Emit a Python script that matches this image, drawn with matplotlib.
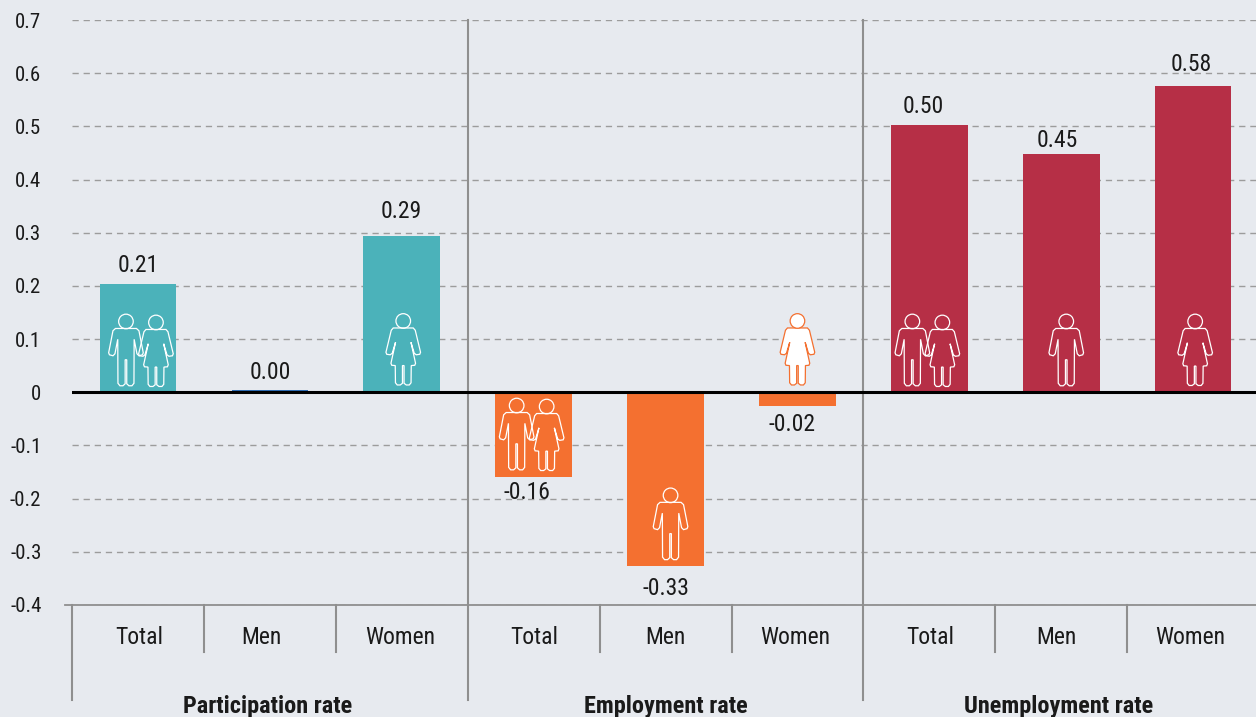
#!/usr/bin/env python3
import matplotlib

matplotlib.use("Agg")
import matplotlib.pyplot as plt
from matplotlib.patches import Circle, PathPatch
from matplotlib.path import Path
from matplotlib.transforms import Affine2D

plt.rcParams["font.family"] = ["Roboto Condensed", "Liberation Sans"]

groups = ["Participation rate", "Employment rate", "Unemployment rate"]
categories = ["Total", "Men", "Women"] * 3
bar_values = [0.204, 0.005, 0.294, -0.159, -0.326, -0.025, 0.503, 0.448, 0.576]
value_labels = ["0.21", "0.00", "0.29", "-0.16", "-0.33", "-0.02", "0.50", "0.45", "0.58"]
bar_colors = ["#4BB2BA", "#2F6DB5", "#4BB2BA"] + ["#F47030"] * 3 + ["#B62F46"] * 3
y_ticks = [-0.4, -0.3, -0.2, -0.1, 0, 0.1, 0.2, 0.3, 0.4, 0.5, 0.6, 0.7]
y_ticklabels = ["-0.4", "-0.3", "-0.2", "-0.1", "0", "0.1", "0.2", "0.3", "0.4", "0.5", "0.6", "0.7"]

BG = "#E7EAEF"
GREY = "#8F8F8F"
TEXT = "#1A1A1A"
PT = 0.72  # one pixel in points at dpi 100

# small nudges of the labels, in pixels
label_dx = [0, 0, 0, -7, 0, -5, -6, -4, -2]
label_dy = [18, 17, 24, -16, -23, -19, 18, 14, 21]
cat_dx = [1, -8, -2, 1, 0, -2, 1, -5, -3]
group_x = [1.48, 4.5, 7.48]

# person icons, in pixels, right half only, origin at the feet, y up
MAN_SIDE = [(0, 57.3), (10.5, 57.3), (13, 55), (17.3, 33), (16.5, 31), (13, 30), (11, 32),
            (8.2, 46.5), (8, 2.5), (6, 0), (3, 0), (0.8, 2), (0.8, 26)]
WOMAN_SIDE = [(0, 57.3), (10, 57.3), (12, 55), (17.3, 33), (16.5, 31), (13, 30.5), (11, 32),
              (7.7, 43), (12.3, 22), (11.5, 20), (8, 19.7), (7.8, 2.5), (6, 0.3), (3, 0.3),
              (0.8, 2), (0.8, 19.7)]


def body_path(side):
    pts = side + [(-x, y) for x, y in reversed(side)]
    codes = [Path.MOVETO] + [Path.LINETO] * (len(pts) - 1)
    return Path(pts, codes)


def draw_person(ax, kind, x, y, dx, dy, edge, face="none"):
    # x, y in data coords, dx, dy extra pixels
    px, py = ax.transData.transform((x, y))
    tr = Affine2D().translate(px + dx, py + dy)
    side = MAN_SIDE if kind == "man" else WOMAN_SIDE
    ax.add_patch(PathPatch(body_path(side), transform=tr, fc=face, ec=edge, lw=0.9,
                           clip_on=False, zorder=5))
    ax.add_patch(Circle((0, 64.3), 7.3, transform=tr, fc=face, ec=edge, lw=0.9,
                        clip_on=False, zorder=5))


fig = plt.figure(figsize=(12.56, 7.17), dpi=100, facecolor=BG)
ax = fig.add_axes([72 / 1256, 112 / 717, 1184 / 1256, 585 / 717], facecolor=BG)

x_pos = [i + 0.5 for i in range(len(categories))]
ax.set_xlim(0, 1184 / 131.9)
ax.set_ylim(-0.4, 0.7)

ax.bar(x_pos, bar_values, width=0.58, color=bar_colors, zorder=3)

ax.set_yticks(y_ticks)
ax.set_yticklabels(y_ticklabels, fontsize=15, color=TEXT)
ax.set_xticks([])
ax.tick_params(axis="y", length=0, pad=22)

for side in ax.spines.values():
    side.set_visible(False)

ax.grid(axis="y", color="#9C9C9C", linestyle=(0, (4.5, 3.5)), linewidth=1, zorder=1)
ax.axhline(0, color="black", linewidth=2.2, zorder=4)
ax.plot([-7 / 131.9, 1184 / 131.9], [-0.4, -0.4], color=GREY, lw=1.3, clip_on=False, zorder=4)

# separators under the axis
xform = ax.get_xaxis_transform()
for i in [0, 3, 6]:
    top = 0 if i == 0 else 1
    ax.plot([i, i], [top, -95 / 585], color=GREY, lw=1.5, transform=xform, clip_on=False, zorder=2)
for i in [1, 2, 4, 5, 7, 8]:
    ax.plot([i, i], [0, -47 / 585], color=GREY, lw=1.5, transform=xform, clip_on=False, zorder=2)

for i, x in enumerate(x_pos):
    ax.annotate(value_labels[i], (x, bar_values[i]),
                xytext=(label_dx[i] * PT, label_dy[i] * PT), textcoords="offset points",
                ha="center", va="center", fontsize=17, color=TEXT, zorder=6)
    ax.annotate(categories[i], (x, 0), xycoords=xform,
                xytext=(cat_dx[i] * PT, -32.5 * PT), textcoords="offset points",
                ha="center", va="center", fontsize=17, color=TEXT)

for name, x in zip(groups, group_x):
    ax.annotate(name, (x, 0), xycoords=xform, xytext=(0, -101 * PT), textcoords="offset points",
                ha="center", va="center", fontsize=17.5, fontweight="bold", color=TEXT)

# icons: positive bars stand 6 px above zero, negative ones sit near the bar end
draw_person(ax, "man", x_pos[0], 0, -12, 6.5, "white")
draw_person(ax, "woman", x_pos[0], 0, 18, 5.5, "white")
draw_person(ax, "woman", x_pos[2], 0, 1.5, 7, "white")
draw_person(ax, "man", x_pos[3], bar_values[3], -17, 7, "white")
draw_person(ax, "woman", x_pos[3], bar_values[3], 13, 6, "white")
draw_person(ax, "man", x_pos[4], bar_values[4], 5, 6, "white")
draw_person(ax, "woman", x_pos[5], 0, 0, 7, "#F47030", face="white")
draw_person(ax, "man", x_pos[6], 0, -17, 6.5, "white")
draw_person(ax, "woman", x_pos[6], 0, 13, 5.5, "white")
draw_person(ax, "man", x_pos[7], 0, 5, 6.5, "white")
draw_person(ax, "woman", x_pos[8], 0, 2, 6.5, "white")

fig.savefig("out.png", dpi=100, facecolor=BG)
